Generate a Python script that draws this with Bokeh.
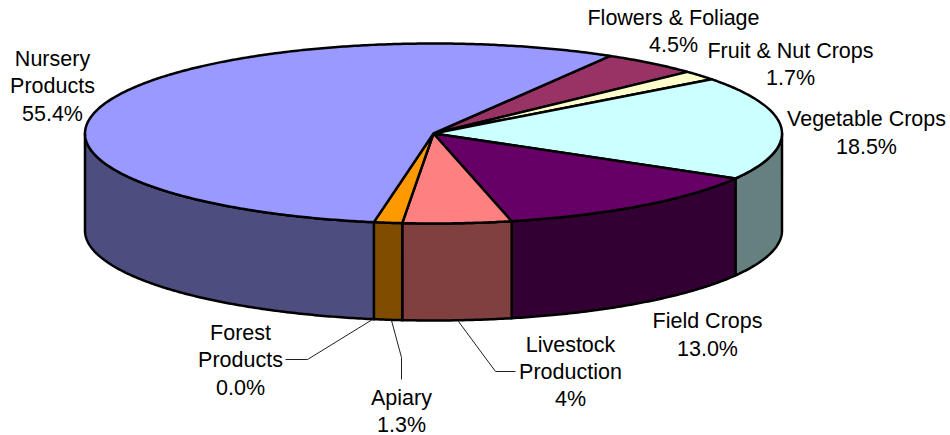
import math
from bokeh.plotting import figure
from bokeh.models import Range1d
from bokeh.core.properties import value
from bokeh.embed import file_html
from bokeh.resources import INLINE

# slices, clockwise from the Nursery/Flowers boundary
names = ["Flowers & Foliage", "Fruit & Nut Crops", "Vegetable Crops", "Field Crops",
         "Livestock Production", "Apiary", "Forest Products", "Nursery Products"]
shares = [4.5, 1.7, 18.5, 13.0, 5.0, 1.3, 0.0, 55.4]
top_colors = ["#993366", "#FFFFCC", "#CCFFFF", "#660066", "#FF8080", "#FF9900", "#FFCC99", "#9999FF"]
side_colors = ["#4D1A33", "#808066", "#668080", "#330033", "#804040", "#804D00", "#80664D", "#4D4D80"]

# labels: text line, centre x, centre y (page pixels)
label_text = ["Flowers & Foliage", "4.5%", "Fruit & Nut Crops", "1.7%", "Vegetable Crops", "18.5%",
              "Field Crops", "13.0%", "Livestock", "Production", "4%", "Apiary", "1.3%",
              "Forest", "Products", "0.0%", "Nursery", "Products", "55.4%"]
label_x = [673, 673, 790, 790, 866, 866, 707, 707, 570, 570, 570, 401, 401, 240, 240, 240, 52, 52, 52]
label_y = [17, 44, 50, 77, 118, 146, 320, 348, 344, 371, 398, 397, 424, 332, 359, 387, 58, 85, 113]

# leader lines
leader_xs = [[372, 307, 285], [391, 401, 401], [458, 495, 515]]
leader_ys = [[319, 359, 359], [320, 357, 379], [321, 371, 371]]

CX, CY, RX, RY, DEPTH = 433, 133, 348.5, 90, 97
START = 59.5


def pt(a, dy=0):
    r = math.radians(a)
    return CX + RX * math.cos(r), CY - RY * math.sin(r) + dy


def arc(a0, a1, dy=0):
    n = max(2, int(abs(a1 - a0) * 2) + 1)
    return [pt(a0 + (a1 - a0) * i / (n - 1), dy) for i in range(n)]


total = sum(shares)
angles = [START]
for s in shares:
    angles.append(angles[-1] - 360 * s / total)

W, H = 950, 435
p = figure(width=W, height=H, output_backend="svg", toolbar_location=None,
           x_range=Range1d(0, W), y_range=Range1d(H, 0),
           min_border=0, min_border_left=0, min_border_right=0, min_border_top=0, min_border_bottom=0,
           outline_line_color=None, background_fill_color=None,
           border_fill_color=None)
p.xaxis.visible = False
p.yaxis.visible = False
p.grid.visible = False

# rim: only the front half of the disc faces the viewer (angles -180..0 and equivalents)
sx, sy, sc = [], [], []
for i, c in enumerate(side_colors):
    a0, a1 = angles[i], angles[i + 1]
    hi = min(a0, 0)
    lo = max(a1, -180)
    if hi - lo <= 0:
        continue
    pts = arc(hi, lo) + arc(lo, hi, DEPTH)
    sx.append([q[0] for q in pts])
    sy.append([q[1] for q in pts])
    sc.append(c)
p.patches(sx, sy, fill_color=sc, line_color="black", line_width=2.5, line_join="round")

# top faces
tx, ty, tc = [], [], []
for i, c in enumerate(top_colors):
    a0, a1 = angles[i], angles[i + 1]
    if a0 - a1 <= 0:
        continue
    pts = [(CX, CY)] + arc(a0, a1)
    tx.append([q[0] for q in pts])
    ty.append([q[1] for q in pts])
    tc.append(c)
p.patches(tx, ty, fill_color=tc, line_color="black", line_width=2.5, line_join="round")

p.multi_line(leader_xs, leader_ys, line_color="#202020", line_width=1)

p.text(label_x, label_y, text=label_text, text_font=value("Liberation Sans"),
       text_font_size=value("21.5px"), text_align="center", text_baseline="middle", text_color="black")

open("out.html", "w").write(file_html(p, INLINE))
